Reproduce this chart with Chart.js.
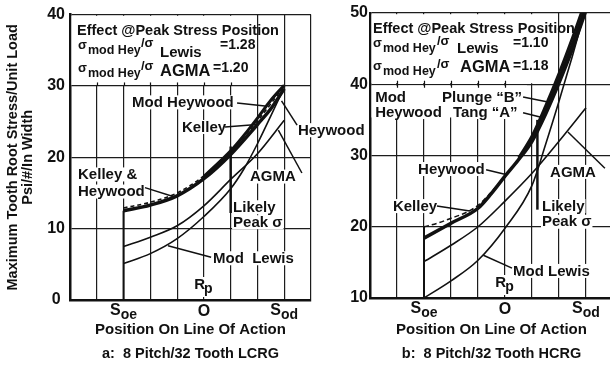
<!DOCTYPE html>
<html>
<head>
<meta charset="utf-8">
<script src="https://cdn.jsdelivr.net/npm/chart.js@4.4.1/dist/chart.umd.min.js"></script>
<style>
  html, body { margin: 0; padding: 0; background: #fff; }
  body { width: 610px; height: 365px; overflow: hidden; position: relative; }
  canvas { position: absolute; top: 0; }
  #lcrg { left: 0; }
  #hcrg { left: 300px; }
</style>
</head>
<body>
<canvas id="lcrg" width="370" height="365"></canvas>
<canvas id="hcrg" width="330" height="365"></canvas>
<script>
const INK = '#111';
const FONT = '"Liberation Sans", Arial, Helvetica, sans-serif';

// Grid divisions along the line of action
const actionGrid = [0, 1, 2, 3, 4, 5, 6, 7, 8, 9];
// Stress axis ticks (psi per lb/in of face width)
const stressTicksA = [0, 10, 20, 30, 40];
const stressTicksB = [10, 20, 30, 40, 50];
// Named points on the line of action
const actionMarks = [
  { at: 2, main: 'S', sub: 'oe' },
  { at: 5, main: 'O', sub: '' },
  { at: 8, main: 'S', sub: 'od' }
];
const pitchPoint = { at: 5, main: 'R', sub: 'p' };

// ---- a: 8 Pitch/32 Tooth LCRG ----
const lcrgKelley     = [[2, 12.5], [3, 13.3], [4, 14.6], [5, 17.0], [6, 20.4], [7, 24.6], [7.5, 26.8], [8, 29.6]];
const lcrgHeywood    = [[2, 12.9], [3, 13.7], [4, 15.0], [5, 17.4], [6, 20.8], [7, 25.1], [7.5, 27.5], [8, 30.0]];
const lcrgModHeywood = [[5, 17.3], [6, 20.9], [6.5, 23.1], [7, 25.5], [7.5, 28.0], [8, 30.1]];
const lcrgAgma       = [[2, 7.5], [3, 8.8], [4, 10.4], [5, 13.2], [6, 16.9], [7, 20.5], [8, 25.2]];
const lcrgModLewis   = [[2, 5.1], [3, 6.5], [4, 8.6], [5, 11.7], [6, 15.6], [6.5, 18.4], [7, 21.9], [7.5, 25.8], [7.9, 29.0]];
const lcrgLikelyPeak = [[6, 12.2], [6, 21.5]];
const lcrgStart      = [[2, 0], [2, 12.5]];

// ---- b: 8 Pitch/32 Tooth HCRG ----
const hcrgKelley     = [[2, 20.0], [2.5, 20.5], [3, 21.2], [3.5, 21.9], [4, 23.0], [4.5, 24.9], [5, 27.1]];
const hcrgHeywood    = [[2, 18.4], [3, 20.5], [4, 22.6], [4.5, 24.7], [5, 27.1], [5.5, 29.4], [6, 32.0], [6.5, 35.8], [7, 40.2], [7.5, 45.0], [8, 50.4]];
const hcrgTangA      = [[5.5, 29.5], [6, 32.4], [6.5, 36.4], [7, 40.9], [7.5, 45.8], [8, 51.2]];
const hcrgPlungeB    = [[5.5, 29.7], [6, 32.8], [6.5, 37.0], [7, 41.6], [7.5, 46.6], [8, 52.0]];
const hcrgAgma       = [[2, 15.1], [3, 17.4], [4, 20.0], [5, 23.6], [6, 27.5], [7, 32.0], [8, 36.7]];
const hcrgModLewis   = [[2, 10.0], [3, 12.4], [4, 15.3], [5, 19.8], [6, 25.8], [6.5, 31.5], [7, 37.6], [7.5, 44.0], [8, 50.8]];
const hcrgLikelyPeak = [[6.2, 22.4], [6.2, 35.0]];
const hcrgStart      = [[2, 10], [2, 20]];

function curve(data, width, dash) {
  return {
    data, showLine: true, fill: false,
    borderColor: INK, backgroundColor: INK, borderWidth: width,
    borderDash: dash || [], pointRadius: 0,
    cubicInterpolationMode: 'monotone'
  };
}
function straight(data, width) {
  return {
    data, showLine: true, fill: false,
    borderColor: INK, backgroundColor: INK, borderWidth: width,
    pointRadius: 0, tension: 0
  };
}

// Annotation layer: blanked grid areas, leader lines, curve labels, ratio box, axis position names
function panelNotes(n) {
  return {
    id: 'panelNotes',
    beforeDatasetsDraw(chart) {
      const { ctx, scales: { x, y } } = chart;
      ctx.save();
      ctx.fillStyle = '#fff';
      for (const b of n.blank) {
        const l = x.getPixelForValue(b.x0), r = x.getPixelForValue(b.x1);
        const t = y.getPixelForValue(b.y1), btm = y.getPixelForValue(b.y0);
        ctx.fillRect(l + 1.5, t + 1.2, (r - 1) - (l + 1.5), (btm - 1) - (t + 1.2));
      }
      ctx.strokeStyle = INK;
      ctx.lineWidth = 1.2;
      const ty = y.getPixelForValue(n.ticks.y);
      for (const v of n.ticks.xs) {
        const tx = Math.round(x.getPixelForValue(v)) + 0.5;
        ctx.beginPath();
        ctx.moveTo(tx, ty - n.ticks.up);
        ctx.lineTo(tx, ty + n.ticks.down);
        ctx.stroke();
      }
      ctx.restore();
    },
    afterDatasetsDraw(chart) {
      const { ctx, chartArea: a, scales: { x, y } } = chart;
      const px = v => x.getPixelForValue(v);
      const py = v => y.getPixelForValue(v);
      ctx.save();
      ctx.textAlign = 'left';

      // label backgrounds
      ctx.textBaseline = 'middle';
      ctx.font = `bold 15px ${FONT}`;
      for (const [t, lx, ly] of n.labels) {
        const w = ctx.measureText(t).width;
        ctx.fillStyle = '#fff';
        ctx.fillRect(px(lx) - 1, py(ly) - 7, w + 2, 14);
      }
      // leader lines
      ctx.strokeStyle = INK;
      ctx.lineWidth = 1.5;
      for (const [x1, y1, x2, y2] of n.leaders) {
        ctx.beginPath();
        ctx.moveTo(px(x1), py(y1));
        ctx.lineTo(px(x2), py(y2));
        ctx.stroke();
      }
      // curve labels
      ctx.fillStyle = INK;
      for (const [t, lx, ly] of n.labels) {
        ctx.fillText(t, px(lx), py(ly) + 0.5);
      }

      // ratio box text
      ctx.textBaseline = 'alphabetic';
      for (const r of n.legend) {
        ctx.font = `bold ${r.size}px ${FONT}`;
        ctx.fillText(r.t, a.left + r.dx, a.top + r.dy);
      }

      // named positions under the axis
      for (const m of actionMarks) {
        ctx.font = `bold 16px ${FONT}`;
        const wm = ctx.measureText(m.main).width;
        ctx.font = `bold 14px ${FONT}`;
        const ws = m.sub ? ctx.measureText(m.sub).width : 0;
        const x0 = px(m.at) - (wm + ws) / 2;
        ctx.font = `bold 16px ${FONT}`;
        ctx.fillText(m.main, x0, a.bottom + (m.sub ? 15 : 16));
        if (m.sub) {
          ctx.font = `bold 14px ${FONT}`;
          ctx.fillText(m.sub, x0 + wm, a.bottom + 19);
        }
      }
      // pitch point
      ctx.font = `bold 15px ${FONT}`;
      const wr = ctx.measureText(pitchPoint.main).width;
      ctx.font = `bold 14px ${FONT}`;
      const wp = ctx.measureText(pitchPoint.sub).width;
      const rx = px(pitchPoint.at) - (wr + wp) / 2;
      ctx.fillStyle = '#fff';
      ctx.fillRect(rx - 1, a.bottom - 23, wr + wp + 2, 20);
      ctx.fillStyle = INK;
      ctx.font = `bold 15px ${FONT}`;
      ctx.fillText(pitchPoint.main, rx, a.bottom - 11);
      ctx.font = `bold 14px ${FONT}`;
      ctx.fillText(pitchPoint.sub, rx + wr - 1, a.bottom - 7);
      ctx.restore();
    }
  };
}

const gridStyle = { color: '#1c1c1c', lineWidth: 1.2, drawTicks: false };
const borderStyle = { display: true, color: INK, width: 2.5 };

function buildPanel(id, cfg) {
  return new Chart(document.getElementById(id), {
    type: 'scatter',
    data: { datasets: cfg.datasets },
    options: {
      responsive: false, animation: false, devicePixelRatio: 1, events: [],
      layout: { padding: { left: 0, top: 13, right: cfg.padRight, bottom: 0 } },
      plugins: {
        legend: { display: false },
        tooltip: { enabled: false },
        title: {
          display: true, position: 'bottom', fullSize: false, align: 'center',
          text: cfg.caption, color: INK,
          font: { family: FONT, size: 14.5, weight: 'bold', lineHeight: '15px' },
          padding: { top: 0, bottom: 4 }
        }
      },
      scales: {
        x: {
          type: 'linear',
          min: actionGrid[0], max: actionGrid[actionGrid.length - 1],
          afterBuildTicks: s => { s.ticks = actionGrid.map(v => ({ value: v })); },
          ticks: { display: false },
          grid: gridStyle, border: borderStyle,
          title: {
            display: true, text: 'Position On Line Of Action', color: INK,
            font: { family: FONT, size: 15, weight: 'bold', lineHeight: '15px' },
            padding: { top: 0, bottom: cfg.xTitlePad }
          },
          afterFit: s => { s.height = cfg.xAxisHeight; }
        },
        y: {
          type: 'linear',
          min: cfg.yTicks[0], max: cfg.yTicks[cfg.yTicks.length - 1],
          afterBuildTicks: s => { s.ticks = cfg.yTicks.map(v => ({ value: v })); },
          ticks: {
            color: INK, padding: cfg.tickPad, crossAlign: 'center',
            font: { family: FONT, size: 16, weight: 'bold' }
          },
          grid: gridStyle, border: borderStyle,
          title: cfg.yTitle ? {
            display: true, text: cfg.yTitle, color: INK,
            font: { family: FONT, size: 14.5, weight: 'bold', lineHeight: '15px' },
            padding: { top: 5.5, bottom: 0 }
          } : { display: false },
          afterFit: s => { s.width = 70; }
        }
      }
    },
    plugins: [panelNotes(cfg.notes)]
  });
}

buildPanel('lcrg', {
  caption: 'a:  8 Pitch/32 Tooth LCRG',
  yTicks: stressTicksA,
  yTitle: ['Maximum Tooth Root Stress/Unit Load', 'Psi/#/In Width'],
  padRight: 59, xAxisHeight: 46, xTitlePad: 9, tickPad: 5,
  datasets: [
    straight(lcrgStart, 2),
    curve(lcrgModLewis, 1.6),
    curve(lcrgAgma, 1.6),
    curve(lcrgKelley, 3.5),
    curve(lcrgHeywood, 1.6, [4, 3]),
    curve(lcrgModHeywood, 3),
    straight(lcrgLikelyPeak, 2.5)
  ],
  notes: {
    blank: [{ x0: 0, x1: 7, y0: 30, y1: 40 }],
    ticks: { y: 30, xs: [1, 2, 3, 4, 5, 6], up: 3.5, down: 0 },
    labels: [
      ['Mod Heywood', 2.32, 27.7],
      ['Kelley', 4.18, 24.25],
      ['Heywood', 8.51, 23.8],
      ['Kelley &', 0.3, 17.6],
      ['Heywood', 0.3, 15.2],
      ['AGMA', 6.72, 17.3],
      ['Likely', 6.09, 13.0],
      ['Peak σ', 6.09, 10.9],
      ['Mod  Lewis', 5.34, 5.85]
    ],
    leaders: [
      [6.24, 27.6, 7.28, 27.2],
      [5.79, 24.25, 6.98, 24.6],
      [8.48, 24.5, 7.9, 27.9],
      [2.8, 15.75, 3.85, 14.5],
      [8.66, 17.8, 7.78, 23.8],
      [5.27, 6.0, 3.66, 7.6]
    ],
    legend: [
      { t: 'Effect @Peak Stress Position', dx: 7, dy: 20, size: 14.5 },
      { t: 'σ', dx: 8, dy: 34, size: 13 },
      { t: 'mod Hey', dx: 18, dy: 39, size: 12.5 },
      { t: '/σ', dx: 71, dy: 32, size: 13 },
      { t: 'Lewis', dx: 90, dy: 42, size: 15 },
      { t: '=1.28', dx: 150, dy: 34, size: 14 },
      { t: 'σ', dx: 8, dy: 57, size: 13 },
      { t: 'mod Hey', dx: 18, dy: 62, size: 12.5 },
      { t: '/σ', dx: 71, dy: 55, size: 13 },
      { t: 'AGMA', dx: 90, dy: 61, size: 16.5 },
      { t: '=1.20', dx: 143, dy: 57, size: 14 }
    ]
  }
});

buildPanel('hcrg', {
  caption: 'b:  8 Pitch/32 Tooth HCRG',
  yTicks: stressTicksB,
  yTitle: null,
  padRight: 17, xAxisHeight: 48, xTitlePad: 8.5, tickPad: 2,
  datasets: [
    straight(hcrgStart, 2),
    curve(hcrgModLewis, 1.6),
    curve(hcrgAgma, 1.6),
    curve(hcrgKelley, 1.5, [5, 3]),
    curve(hcrgHeywood, 3.5),
    curve(hcrgTangA, 2.5),
    curve(hcrgPlungeB, 2.5),
    straight(hcrgLikelyPeak, 2.5)
  ],
  notes: {
    blank: [
      { x0: 0, x1: 7, y0: 40, y1: 50 },
      { x0: 0, x1: 5.85, y0: 35.2, y1: 40 }
    ],
    ticks: { y: 40, xs: [1, 2, 3, 4, 5], up: 3.5, down: 3.5 },
    labels: [
      ['Mod', 0.19, 38.2],
      ['Heywood', 0.19, 36.1],
      ['Plunge “B”', 2.67, 38.2],
      ['Tang “A”', 3.07, 36.1],
      ['Heywood', 1.78, 28.1],
      ['Kelley', 0.85, 22.9],
      ['AGMA', 6.67, 27.7],
      ['Likely', 6.37, 22.9],
      ['Peak σ', 6.37, 20.7],
      ['Mod Lewis', 5.3, 13.8]
    ],
    leaders: [
      [5.67, 38.2, 6.59, 37.5],
      [5.67, 36.0, 6.3, 35.4],
      [4.3, 28.0, 5.07, 27.3],
      [2.48, 22.9, 3.7, 22.2],
      [8.7, 28.2, 7.33, 33.3],
      [5.26, 14.2, 4.2, 16.0]
    ],
    legend: [
      { t: 'Effect @Peak Stress Position', dx: 3, dy: 20, size: 14.5 },
      { t: 'σ', dx: 3, dy: 34, size: 13 },
      { t: 'mod Hey', dx: 13, dy: 39, size: 12.5 },
      { t: '/σ', dx: 67, dy: 32, size: 13 },
      { t: 'Lewis', dx: 87, dy: 40, size: 15 },
      { t: '=1.10', dx: 143, dy: 34, size: 14 },
      { t: 'σ', dx: 3, dy: 57, size: 13 },
      { t: 'mod Hey', dx: 13, dy: 62, size: 12.5 },
      { t: '/σ', dx: 67, dy: 55, size: 13 },
      { t: 'AGMA', dx: 90, dy: 59, size: 16.5 },
      { t: '=1.18', dx: 143, dy: 57, size: 14 }
    ]
  }
});
</script>
</body>
</html>
